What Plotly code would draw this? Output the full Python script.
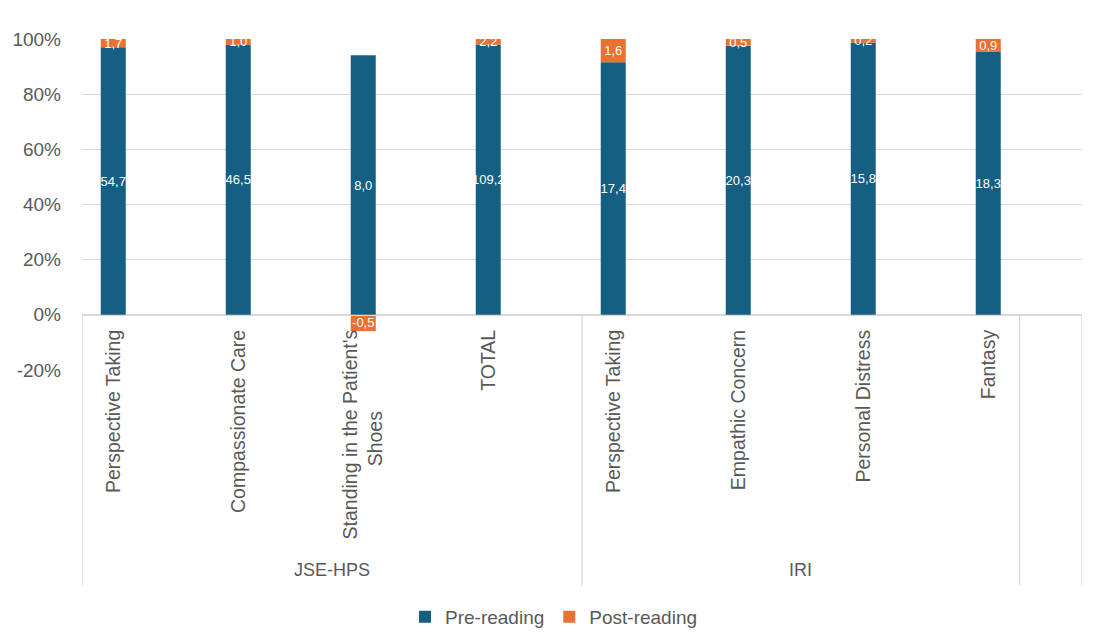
import numpy as np
import plotly.graph_objects as go

# ---------------- data ----------------
groups = ["JSE-HPS", "IRI"]
categories = [
    "Perspective Taking",
    "Compassionate Care",
    "Standing in the Patient's<br>Shoes" + "\u00a0" * 15,
    "TOTAL",
    "Perspective Taking",
    "Empathic Concern",
    "Personal Distress",
    "Fantasy",
]
pre_reading = [54.7, 46.5, 8.0, 109.2, 17.4, 20.3, 15.8, 18.3]
post_reading = [1.7, 1.0, -0.5, 2.2, 1.6, 0.5, 0.2, 0.9]
y_tick_values = [-20, 0, 20, 40, 60, 80, 100]

# ---------------- derived (100% stacked, like Excel) ----------------
pre_a = np.array(pre_reading)
post_a = np.array(post_reading)
total = np.abs(pre_a) + np.abs(post_a)
pre_pct = pre_a / total * 100
post_pct = post_a / total * 100
xpos = np.arange(len(categories))


def fmt(v):
    return f"{v:.1f}".replace(".", ",")


FONT = "Liberation Sans, Arial, sans-serif"
GRID = "#d9d9d9"
TXT = "#595959"
Y_MIN, Y_MAX = -20, 100

fig = go.Figure()
fig.add_trace(go.Bar(
    x=xpos, y=pre_pct, name="Pre-reading",
    marker=dict(color="#156082", line=dict(width=0)),
    width=0.2,
    text=[fmt(v) for v in pre_reading],
    textposition="inside", insidetextanchor="middle",
    textangle=0, constraintext="none",
    textfont=dict(color="white", size=13, family=FONT),
    hoverinfo="skip",
))
fig.add_trace(go.Bar(
    x=xpos, y=post_pct, name="Post-reading",
    marker=dict(color="#E97132", line=dict(width=0)),
    width=0.2,
    text=[fmt(v) for v in post_reading],
    textposition="inside", insidetextanchor="middle",
    textangle=0, constraintext="none",
    textfont=dict(color="white", size=13, family=FONT),
    hoverinfo="skip",
))

zero_pos = (0 - Y_MIN) / (Y_MAX - Y_MIN)

# category-axis frame (dividers) and group labels
divider_x = [-0.25, 3.75, 7.25, 7.75]
shapes = []
for dx in divider_x:
    shapes.append(dict(type="line", xref="x", yref="paper",
                       x0=dx, x1=dx, y0=zero_pos, y1=-0.65,
                       line=dict(color=GRID, width=1.3)))
annotations = []
for i, g in enumerate(groups):
    cx = (divider_x[i] + divider_x[i + 1]) / 2
    annotations.append(dict(x=cx, xref="x", y=-0.604, yref="paper",
                            text=g, showarrow=False,
                            font=dict(size=18, color=TXT, family=FONT),
                            xanchor="center", yanchor="middle"))

fig.update_layout(
    width=1097, height=634,
    margin=dict(l=82, r=15, t=39, b=264, autoexpand=False),
    barmode="relative",
    plot_bgcolor="white", paper_bgcolor="white",
    font=dict(family=FONT, color=TXT),
    xaxis=dict(
        tickmode="array", tickvals=xpos, ticktext=categories,
        tickangle=-90, range=[-0.25, 7.75],
        anchor="free", position=zero_pos,
        showgrid=False, showline=True, linecolor=GRID, linewidth=1.3,
        ticks="", ticklabelstandoff=6, automargin=False,
        tickfont=dict(size=19.5, color=TXT, family=FONT),
        zeroline=False,
    ),
    yaxis=dict(
        range=[Y_MIN, Y_MAX], tickmode="array", tickvals=y_tick_values,
        ticktext=[f"{v}%" for v in y_tick_values],
        showgrid=True, gridcolor=GRID, gridwidth=1.3,
        zeroline=False, showline=False, ticks="",
        ticklabelstandoff=20, automargin=False,
        tickfont=dict(size=19, color=TXT, family=FONT),
    ),
    legend=dict(orientation="h", x=0.472, xanchor="center",
                y=-0.746, yanchor="middle",
                font=dict(size=19, color=TXT, family=FONT),
                itemwidth=30, traceorder="normal"),
    shapes=shapes, annotations=annotations,
    showlegend=True,
)

fig.write_html("out.html")
